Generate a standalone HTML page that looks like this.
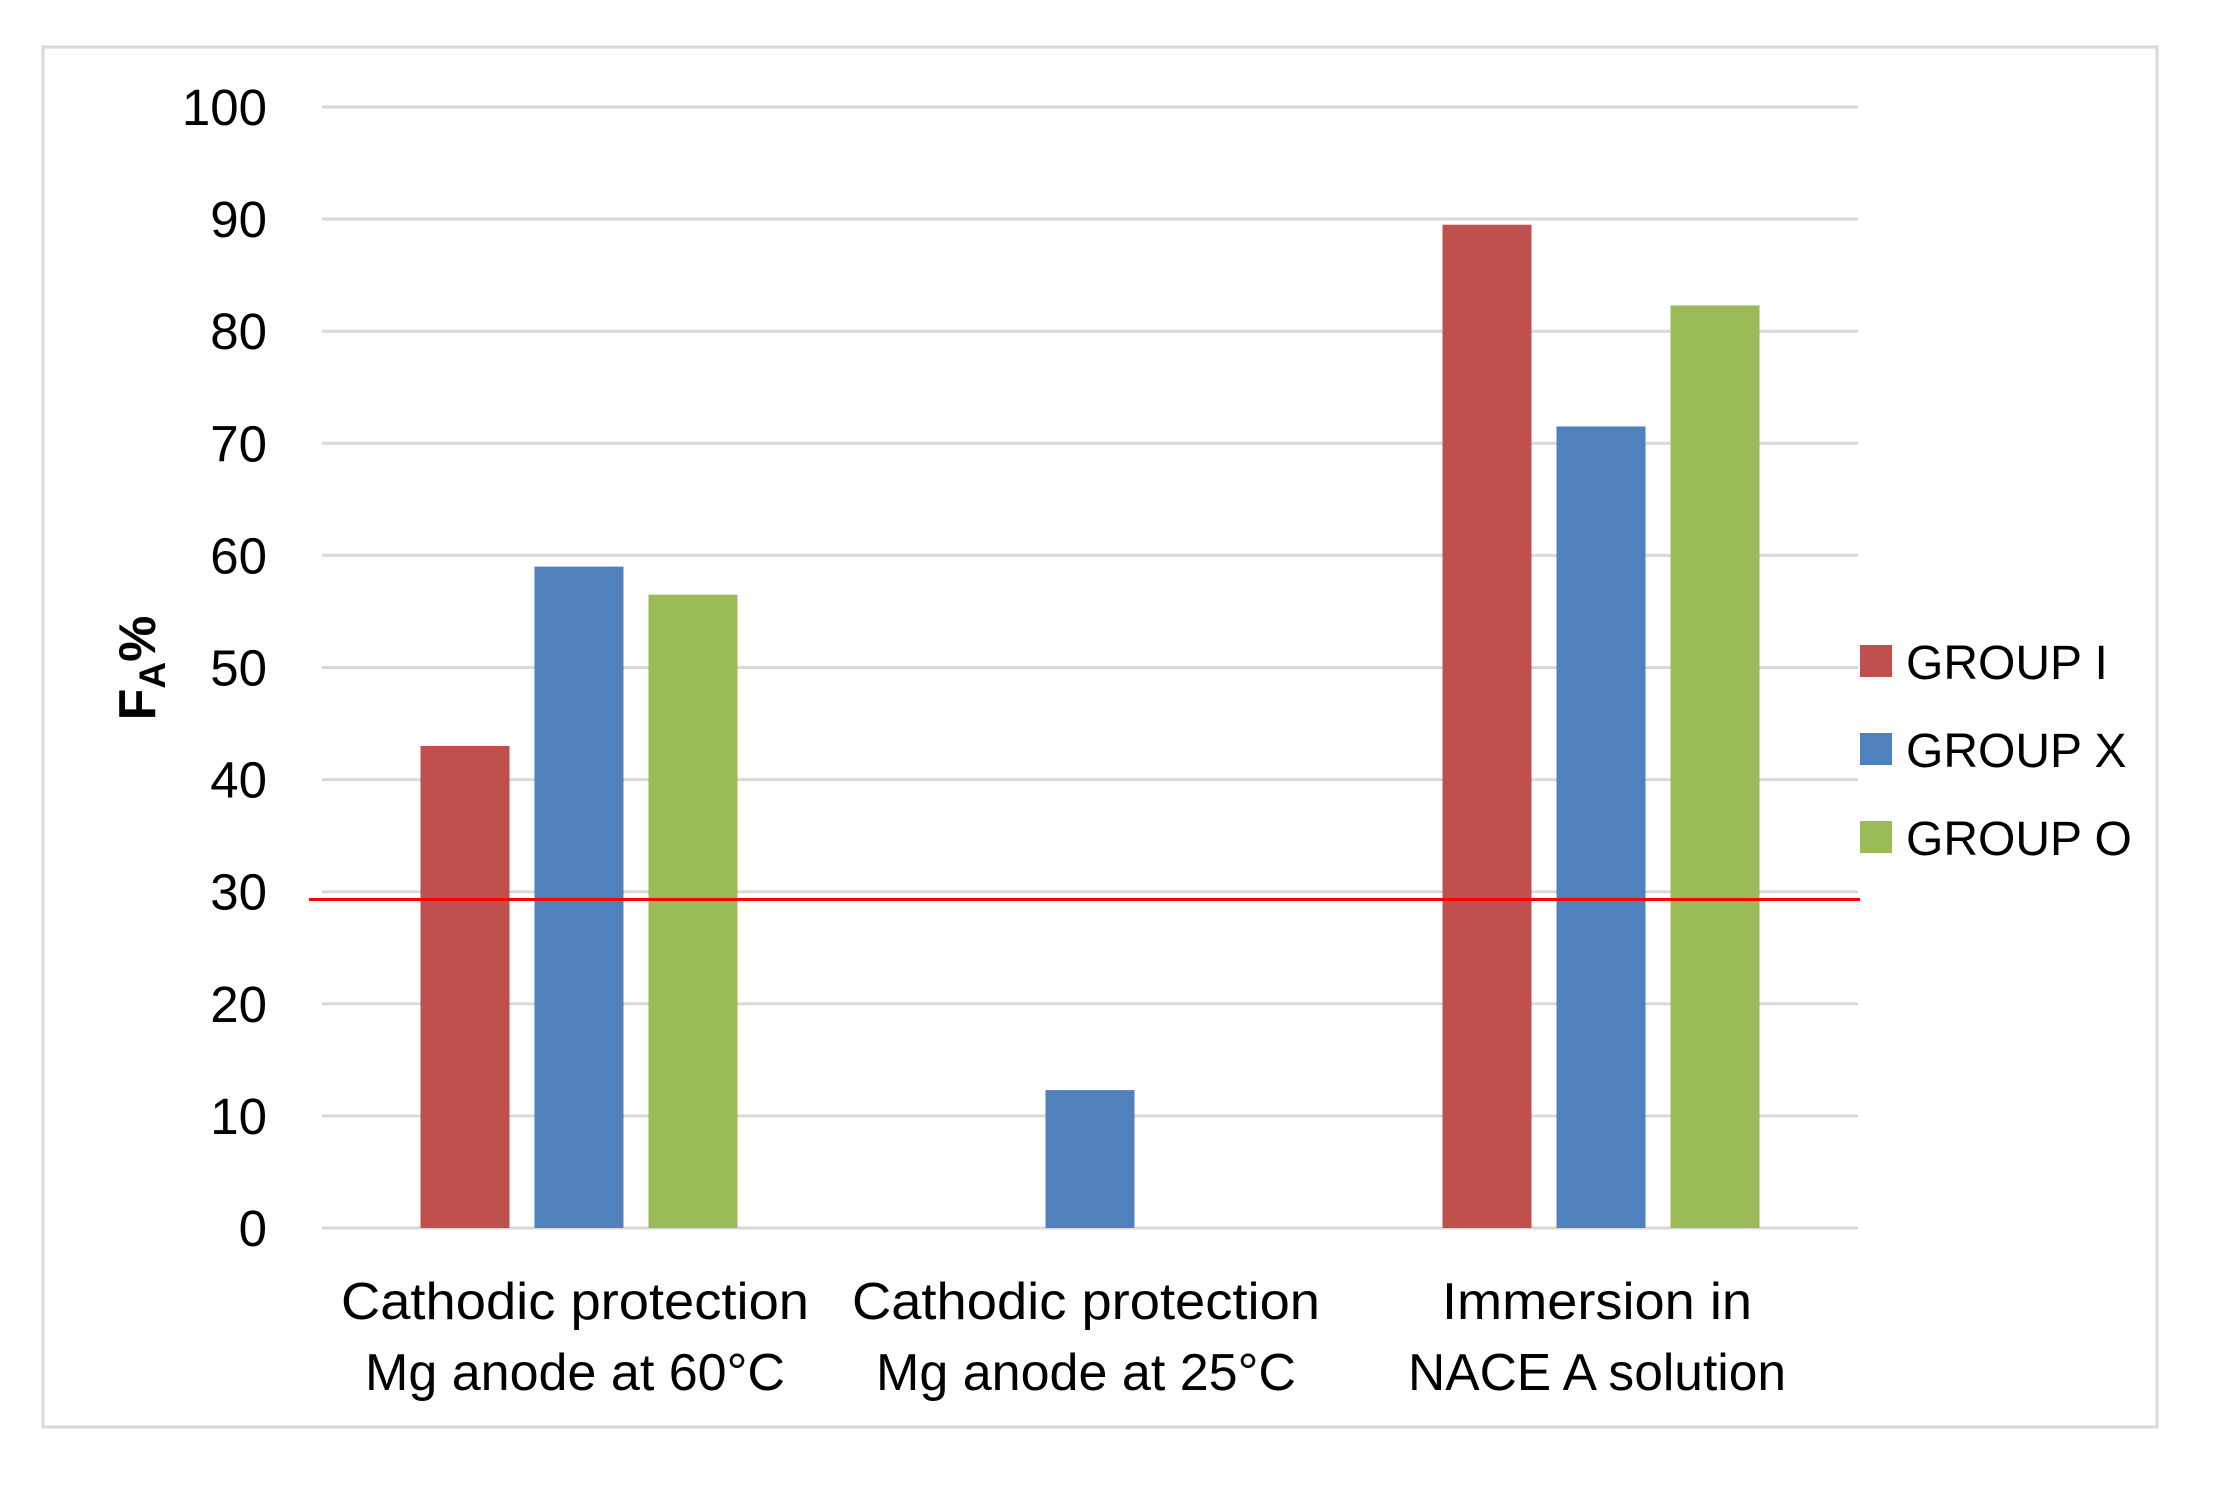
<!DOCTYPE html>
<html><head><meta charset="utf-8"><style>
html,body{margin:0;padding:0;background:#fff;}
svg{display:block;font-family:"Liberation Sans",Calibri,sans-serif;}
</style></head><body>
<svg id="chart" width="2214" height="1492" viewBox="0 0 2214 1492" xmlns="http://www.w3.org/2000/svg">
<rect x="43" y="47" width="2114" height="1380" fill="#fff" stroke="#d9d9d9" stroke-width="3"/>
<g id="grid"></g>
<g id="bars"></g>
<g id="ylabels"></g>
<g id="xlabels"></g>
<text transform="translate(155,668) rotate(-90)" text-anchor="middle" font-size="52" font-weight="bold" fill="#000">F<tspan font-size="37" dy="10">A</tspan><tspan dy="-10">%</tspan></text>
<g id="legend"></g>
</svg>
<script>
const categories = [["Cathodic protection","Mg anode at 60°C"],["Cathodic protection","Mg anode at 25°C"],["Immersion in","NACE A solution"]];
const seriesNames = ["GROUP I","GROUP X","GROUP O"];
const groupI = [43, null, 89.5];
const groupX = [59, 12.3, 71.5];
const groupO = [56.5, null, 82.3];
const yTicks = [0,10,20,30,40,50,60,70,80,90,100];
const thresholdValue = 29.3;

const colors = ["#c0504d","#4f81bd","#9bbb59"];
const series = [groupI, groupX, groupO];
const NS = "http://www.w3.org/2000/svg";
const plotL = 322, plotR = 1858, y0 = 1228, y100 = 107;
const catW = 511, firstCenter = 579, barW = 89, barStride = 114;
function yScale(v){ return y0 - (v/100)*(y0-y100); }
function xCenter(i){ return firstCenter + i*catW; }
function mk(tag, attrs, parent){ const e=document.createElementNS(NS,tag); for(const k in attrs) e.setAttribute(k,attrs[k]); parent.appendChild(e); return e; }

const grid=document.getElementById('grid');
const yl=document.getElementById('ylabels');
yTicks.forEach(t=>{
  const l=mk('line',{x1:plotL,x2:plotR,y1:yScale(t),y2:yScale(t),stroke:'#d9d9d9','stroke-width':3},grid);
  
  
  const tx=mk('text',{x:267,y:yScale(t)+18,'text-anchor':'end','font-size':51,fill:'#000'},yl);
  tx.textContent=t;
  
  
});

const bars=document.getElementById('bars');
series.forEach((s,si)=>{
  s.forEach((v,ci)=>{
    if(v===null) return;
    const x=xCenter(ci)+(si-1)*barStride-barW/2;
    const r=mk('rect',{x:x,y:yScale(v),width:barW,height:y0-yScale(v),fill:colors[si]},bars);
    
    
  });
});
const th=mk('line',{x1:309,x2:1860,y1:yScale(thresholdValue),y2:yScale(thresholdValue),stroke:'#ff0000','stroke-width':3},bars);



const labelLens = [[468,420],[468,420],[310,378]];
const xl=document.getElementById('xlabels');
categories.forEach((c,ci)=>{
  c.forEach((line,li)=>{
    const t=mk('text',{x:xCenter(ci)-4,y:1319+li*71,'text-anchor':'middle','font-size':52,fill:'#000',textLength:labelLens[ci][li],lengthAdjust:'spacingAndGlyphs'},xl);
    t.textContent=line;
    
    
  });
});

const lg=document.getElementById('legend');
seriesNames.forEach((n,i)=>{
  const y=645+i*88;
  const sq=mk('rect',{x:1860,y:y,width:32,height:32,fill:colors[i]},lg);
  
  
  const t=mk('text',{x:1906,y:y+34,'font-size':48,fill:'#000'},lg);
  t.textContent=n;
  
  
});
</script>
</body></html>
